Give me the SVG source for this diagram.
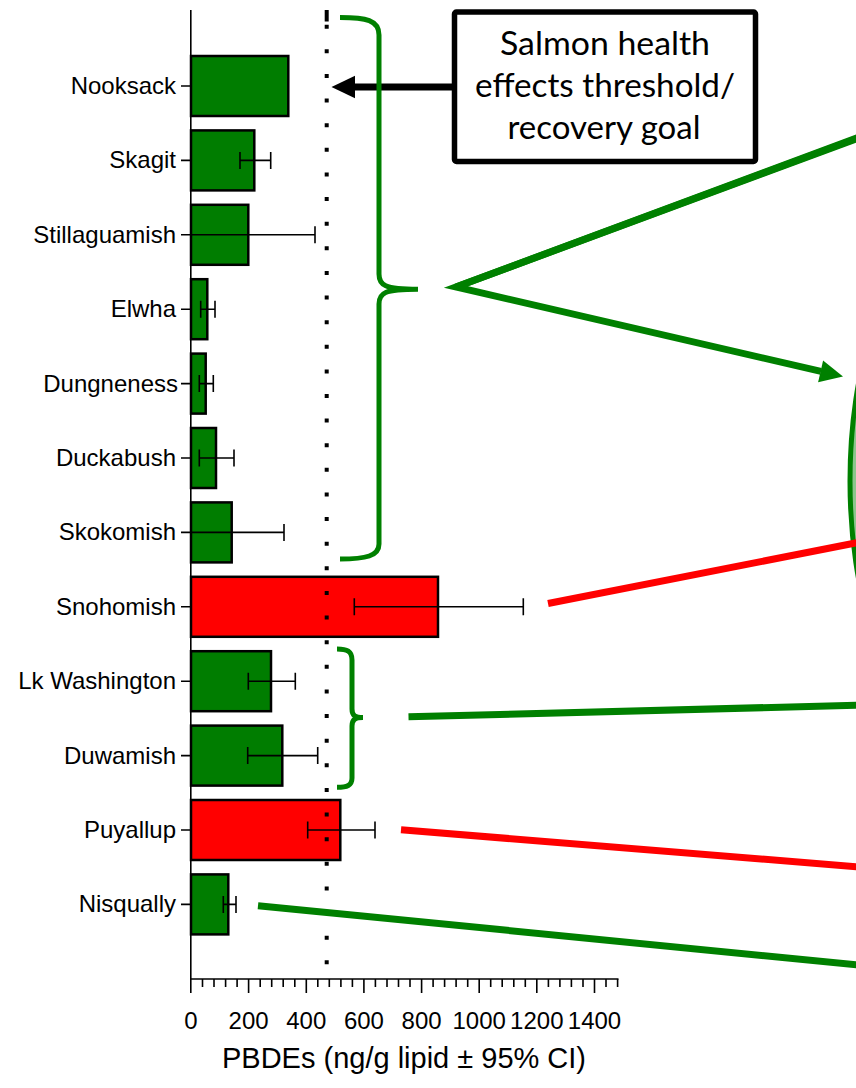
<svg xmlns="http://www.w3.org/2000/svg" width="856" height="1088" viewBox="0 0 856 1088">
<style>
  .lbl { font-family: "Liberation Sans", Arial, sans-serif; font-size: 24px; fill: #000; text-anchor: end; }
  .tkl { font-family: "Liberation Sans", Arial, sans-serif; font-size: 24px; fill: #000; text-anchor: middle; }
  .ttl { font-family: "Liberation Sans", Arial, sans-serif; font-size: 29px; fill: #000; text-anchor: middle; }
  .call { font-family: Lato, "Open Sans", sans-serif; font-size: 32px; fill: #000; text-anchor: middle; }
  .barG { fill: #007d00; stroke: #000; stroke-width: 2.5; }
  .barR { fill: #ff0000; stroke: #000; stroke-width: 2.5; }
  .err { stroke: #000; stroke-width: 1.6; fill: none; }
  .ax { stroke: #000; stroke-width: 1.6; fill: none; }
  .gl { stroke: #008000; stroke-width: 7; fill: none; }
  .rl { stroke: #ff0000; stroke-width: 7; fill: none; }
  .brace { stroke: #008000; stroke-width: 5; fill: none; stroke-linecap: butt; }
</style>

<g id="axes">
  <line class="ax" x1="190.8" y1="10" x2="190.8" y2="993"/>
  <line class="ax" x1="190" y1="979" x2="618.5" y2="979"/>
  <g id="xticks" class="ax">
    <path d="M202.5,979v8M214,979v8M225.6,979v8M237.1,979v8M248.6,979v14M260.2,979v8M271.7,979v8M283.2,979v8M294.8,979v8M306.3,979v14M317.8,979v8M329.3,979v8M340.9,979v8M352.4,979v8M363.9,979v14M375.4,979v8M387,979v8M398.5,979v8M410,979v8M421.6,979v14M433.1,979v8M444.6,979v8M456.1,979v8M467.7,979v8M479.2,979v14M490.7,979v8M502.2,979v8M513.8,979v8M525.3,979v8M536.8,979v14M548.4,979v8M559.9,979v8M571.4,979v8M583,979v8M594.5,979v14M606,979v8M617.6,979v8"/>
  </g>
  <g id="ytick-marks" class="ax">
    <path d="M181,86h10M181,160.4h10M181,234.8h10M181,309.2h10M181,383.6h10M181,458h10M181,532.4h10M181,606.8h10M181,681.2h10M181,755.6h10M181,830h10M181,904.4h10"/>
  </g>
  <text class="tkl" x="191" y="1029">0</text>
  <text class="tkl" x="248.6" y="1029">200</text>
  <text class="tkl" x="306.3" y="1029">400</text>
  <text class="tkl" x="363.9" y="1029">600</text>
  <text class="tkl" x="421.6" y="1029">800</text>
  <text class="tkl" x="479.2" y="1029">1000</text>
  <text class="tkl" x="536.8" y="1029">1200</text>
  <text class="tkl" x="594.5" y="1029">1400</text>
  <text class="ttl" x="404" y="1068">PBDEs (ng/g lipid ± 95% CI)</text>
</g>

<g id="nooksack">
  <text class="lbl" x="176" y="94">Nooksack</text>
  <rect class="barG" x="191" y="56" width="97.3" height="60"/>
</g>
<g id="skagit">
  <text class="lbl" x="176" y="168.4">Skagit</text>
  <rect class="barG" x="191" y="130.4" width="63.3" height="60"/>
  <path class="err" d="M240,160.4H270.7M240,152v17M270.7,152v17"/>
</g>
<g id="stillaguamish">
  <text class="lbl" x="176" y="242.8">Stillaguamish</text>
  <rect class="barG" x="191" y="204.8" width="57.3" height="60"/>
  <path class="err" d="M191,234.8H315M315,226.3v17"/>
</g>
<g id="elwha">
  <text class="lbl" x="176" y="317.2">Elwha</text>
  <rect class="barG" x="191" y="279.2" width="16.3" height="60"/>
  <path class="err" d="M200.7,309.2H215M200.7,300.7v17M215,300.7v17"/>
</g>
<g id="dungeness">
  <text class="lbl" x="178" y="391.6">Dungneness</text>
  <rect class="barG" x="191" y="353.6" width="14.7" height="60"/>
  <path class="err" d="M199.3,383.6H213.3M199.3,375.1v17M213.3,375.1v17"/>
</g>
<g id="duckabush">
  <text class="lbl" x="176" y="466">Duckabush</text>
  <rect class="barG" x="191" y="428" width="25" height="60"/>
  <path class="err" d="M199.3,458H234M199.3,449.5v17M234,449.5v17"/>
</g>
<g id="skokomish">
  <text class="lbl" x="176" y="540.4">Skokomish</text>
  <rect class="barG" x="191" y="502.4" width="40.7" height="60"/>
  <path class="err" d="M191,532.4H284M284,523.9v17"/>
</g>
<g id="snohomish">
  <text class="lbl" x="176" y="614.8">Snohomish</text>
  <rect class="barR" x="191" y="576.8" width="247" height="60"/>
  <path class="err" d="M354.3,606.8H523.3M354.3,598.3v17M523.3,598.3v17"/>
</g>
<g id="lk-washington">
  <text class="lbl" x="176" y="689.2">Lk Washington</text>
  <rect class="barG" x="191" y="651.2" width="80" height="60"/>
  <path class="err" d="M248.3,681.2H295.3M248.3,672.7v17M295.3,672.7v17"/>
</g>
<g id="duwamish">
  <text class="lbl" x="176" y="763.6">Duwamish</text>
  <rect class="barG" x="191" y="725.6" width="91.3" height="60"/>
  <path class="err" d="M247.7,755.6H317.7M247.7,747.1v17M317.7,747.1v17"/>
</g>
<g id="puyallup">
  <text class="lbl" x="176" y="838">Puyallup</text>
  <rect class="barR" x="191" y="800" width="149.3" height="60"/>
  <path class="err" d="M307.7,830H375M307.7,821.5v17M375,821.5v17"/>
</g>
<g id="nisqually">
  <text class="lbl" x="176" y="912.4">Nisqually</text>
  <rect class="barG" x="191" y="874.4" width="37.3" height="60"/>
  <path class="err" d="M223.3,904.4H236M223.3,895.9v17M236,895.9v17"/>
</g>

<g id="threshold-line">
  <rect x="324.7" y="10" width="4" height="11.5" fill="#000"/>
  <line x1="326.7" y1="24.7" x2="326.7" y2="966" stroke="#000" stroke-width="4" stroke-dasharray="4 20.62"/>
</g>

<g id="callout">
  <rect x="454.5" y="12" width="301" height="149.5" rx="2" fill="#fff" stroke="#000" stroke-width="5.5"/>
  <text class="call" x="605" y="55" textLength="210" lengthAdjust="spacingAndGlyphs">Salmon health</text>
  <text class="call" x="605" y="97" textLength="260" lengthAdjust="spacingAndGlyphs">effects threshold/</text>
  <text class="call" x="604" y="138.5" textLength="193" lengthAdjust="spacingAndGlyphs">recovery goal</text>
</g>

<g id="ellipse-node">
  <ellipse cx="932" cy="481" rx="82" ry="220" fill="#008000" fill-opacity="0.45" stroke="#008000" stroke-width="5"/>
</g>

<g id="connectors">
  <line x1="452" y1="87" x2="354" y2="87" stroke="#000" stroke-width="7"/>
  <polygon points="331.5,87 355,75.7 355,98.3" fill="#000"/>
  <path class="brace" d="M340,17.5 C366,17.5 379,20 379,35 L379,274 C379,285 384,289.3 418,289.3 M418,289.3 C384,289.3 379,293 379,304 L379,544 C379,556 366,559 340,559"/>
  <path class="brace" d="M337,649 C347,649 352,651 352,660 L352,709 C352,715.5 355,717.6 363,717.6 M363,717.6 C355,717.6 352,719.5 352,726 L352,778 C352,785.5 347,787.3 337,787.3"/>
  <line class="gl" x1="456" y1="287" x2="862" y2="136.8"/>
  <polyline class="gl" points="860,136.8 456,287 821,371.4" stroke-linejoin="miter"/>
  <polygon points="843,376.5 823.1,360.6 818.1,382.3" fill="#008000"/>
  <line class="rl" x1="548" y1="603.5" x2="858" y2="542.5"/>
  <line class="gl" x1="408.5" y1="716.8" x2="858" y2="705.2"/>
  <line class="rl" x1="401" y1="829.8" x2="858" y2="866.8"/>
  <line class="gl" x1="258" y1="905.7" x2="858" y2="965"/>
</g>
</svg>
